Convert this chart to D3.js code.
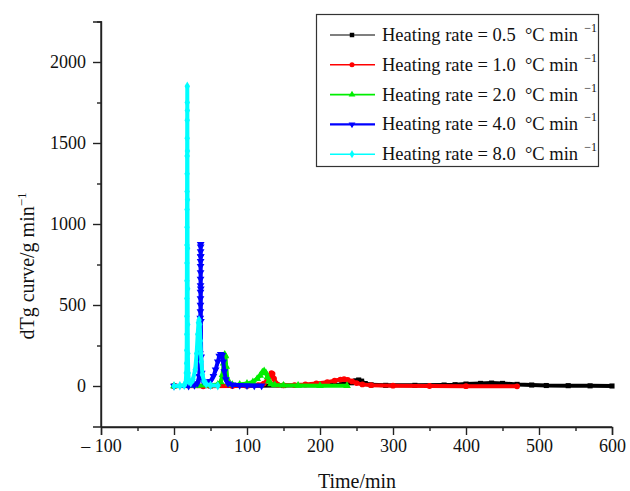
<!DOCTYPE html>
<html>
<head>
<meta charset="utf-8">
<script src="https://cdn.jsdelivr.net/npm/d3@7"></script>
<style>
  html, body { margin: 0; padding: 0; background: #fff; }
  svg { display: block; font-family: "Liberation Serif", "Times New Roman", serif; }
  svg text { font-family: "Liberation Serif", "Times New Roman", serif; }
</style>
</head>
<body>
<svg id="chart" width="630" height="491"></svg>
<script>
// DTG curves of the sample at five heating rates (time in min, dTg in g/min)
const rates = ["0.5", "1.0", "2.0", "4.0", "8.0"];
const colors = ["#000000", "#ff0000", "#00ee00", "#0000ff", "#00ffff"];
const symbols = [d3.symbolSquare, d3.symbolCircle, d3.symbolTriangle, "triangleDown", d3.symbolDiamond];

const time05 = [0, 50, 100, 150, 200, 230, 243, 249, 253, 257, 262, 270, 290, 330, 370, 385, 400, 420, 435, 450, 470, 490, 510, 540, 570, 600];
const dtg05  = [0, 1, 2, 3, 5, 10, 20, 32, 37, 30, 15, 7, 4, 4, 6, 8, 12, 16, 18, 16, 10, 6, 3, 2, 1, 0];

const time10 = [0, 40, 80, 100, 115, 123, 128, 131, 133.5, 135, 137, 139, 142, 150, 165, 180, 195, 210, 220, 228, 233, 238, 244, 250, 258, 270, 300, 350, 400, 470];
const dtg10  = [0, -2, 0, 2, 6, 15, 35, 60, 80, 75, 45, 20, 8, 4, 6, 10, 16, 24, 33, 40, 42, 38, 28, 18, 10, 5, 2, 0, -1, -2];

const time20 = [0, 30, 50, 60, 64, 66.5, 68, 69.5, 70.5, 71.5, 73, 75, 80, 90, 100, 108, 114, 118, 121, 123.5, 126, 128, 130, 133, 138, 150, 170, 200, 237];
const dtg20  = [0, 2, 5, 10, 25, 70, 140, 195, 185, 120, 45, 15, 8, 10, 15, 25, 45, 65, 85, 93, 80, 55, 30, 12, 6, 4, 3, 2, 1];

const time40 = [0, 20, 28, 32, 34.5, 35.5, 36.0, 36.2, 36.25, 36.3, 36.32, 36.35, 36.38, 36.4, 36.42, 36.45, 36.47, 36.5, 36.52, 36.55, 36.6, 36.7, 36.8, 37.2, 38, 40, 45, 50, 54, 57, 60, 62, 64, 66, 67.5, 69, 71, 74, 80, 90, 100, 110, 120];
const dtg40  = [0, 0, 5, 15, 60, 200, 420, 460, 500, 540, 580, 620, 660, 700, 740, 770, 800, 830, 860, 875, 800, 600, 400, 180, 80, 30, 20, 30, 60, 100, 150, 185, 196, 190, 150, 90, 40, 15, 8, 5, 3, 2, 1];

const time80 = [0, 8, 14, 16, 16.8, 17.2, 17.4, 17.5, 17.55, 17.6, 17.65, 17.7, 17.75, 17.8, 17.85, 17.9, 17.95, 18.0, 18.05, 18.1, 18.15, 18.2, 18.3, 18.4, 18.5, 18.6, 18.7, 18.8, 19.0, 19.5, 20.5, 23, 26, 29, 31, 32.5, 33.5, 34.3, 35.2, 36.2, 37.5, 39, 41, 44, 50, 60];
const dtg80  = [0, 2, 5, 20, 80, 140, 220, 320, 430, 540, 650, 760, 870, 980, 1090, 1200, 1310, 1420, 1530, 1640, 1750, 1850, 1700, 1450, 1150, 850, 600, 380, 200, 80, 30, 20, 40, 100, 200, 320, 390, 407, 380, 280, 150, 70, 30, 12, 4, 1];

const xTicks = [-100, 0, 100, 200, 300, 400, 500, 600];
const xTickLabels = ["\u2013 100", "0", "100", "200", "300", "400", "500", "600"];
const yTicks = [0, 500, 1000, 1500, 2000];
const yTickLabels = ["0", "500", "1000", "1500", "2000"];

const seriesTimes = [time05, time10, time20, time40, time80];
const seriesValues = [dtg05, dtg10, dtg20, dtg40, dtg80];

const svg = d3.select("#chart");
const x = d3.scaleLinear().domain([-100, 600]).range([101, 612]);
const y = d3.scaleLinear().domain([-250, 2250]).range([426.5, 21.5]);

// downward-pointing triangle symbol
const triangleDown = {
  draw(ctx, size) {
    const h = Math.sqrt(size / (Math.sqrt(3) / 4));
    const s = h / 2, t = h * Math.sqrt(3) / 2;
    ctx.moveTo(0, t * 2 / 3);
    ctx.lineTo(s, -t / 3);
    ctx.lineTo(-s, -t / 3);
    ctx.closePath();
  }
};
const symType = s => s === "triangleDown" ? triangleDown : s;

// curves with a marker at every data point
const line = d3.line().x(d => x(d[0])).y(d => y(d[1]));
const plot = svg.append("g");
seriesTimes.forEach((ts, i) => {
  const pts = ts.map((t, k) => [t, seriesValues[i][k]]);
  const g = plot.append("g");
  g.append("path")
    .attr("d", line(pts))
    .attr("fill", "none")
    .attr("stroke", colors[i])
    .attr("stroke-width", 4)
    .attr("stroke-linejoin", "round")
    .attr("stroke-linecap", "round");
  g.selectAll("path.m").data(pts).join("path")
    .attr("class", "m")
    .attr("transform", d => `translate(${x(d[0])},${y(d[1])})`)
    .attr("d", d3.symbol().type(symType(symbols[i])).size(26))
    .attr("fill", colors[i]);
});

// axes
const axisColor = "#222";
const xAxis = svg.append("g").attr("transform", "translate(0,427)")
  .call(d3.axisBottom(x).tickValues(xTicks).tickFormat((d, k) => xTickLabels[k]).tickSize(8).tickPadding(4));
const xMinor = svg.append("g").attr("transform", "translate(0,427)")
  .call(d3.axisBottom(x).tickValues(d3.range(-50, 600, 100)).tickFormat("").tickSize(4));
const yAxis = svg.append("g").attr("transform", "translate(101,0)")
  .call(d3.axisLeft(y).tickValues(yTicks).tickFormat((d, k) => yTickLabels[k]).tickSize(8).tickPadding(7));
const yMinor = svg.append("g").attr("transform", "translate(101,0)")
  .call(d3.axisLeft(y).tickValues([250, 750, 1250, 1750, 2250]).tickFormat("").tickSize(4));

[xAxis, xMinor, yAxis, yMinor].forEach(a => {
  a.attr("font-family", "Liberation Serif").attr("font-size", 18);
  a.select(".domain").attr("stroke", axisColor).attr("stroke-width", 1.4);
  a.selectAll(".tick line").attr("stroke", axisColor).attr("stroke-width", 1.4);
  a.selectAll(".tick text").attr("fill", "#111");
});
xMinor.select(".domain").remove();
yMinor.select(".domain").remove();
svg.append("line").attr("x1", 101).attr("x2", 101).attr("y1", 21).attr("y2", 427)
  .attr("stroke", axisColor).attr("stroke-width", 1.4);
svg.append("line").attr("x1", 101).attr("x2", 612).attr("y1", 427).attr("y2", 427)
  .attr("stroke", axisColor).attr("stroke-width", 1.4);

// axis titles
svg.append("text").attr("x", 357).attr("y", 488).attr("text-anchor", "middle")
  .style("font-size", "20px").attr("fill", "#111").text("Time/min");

const yt = svg.append("text").attr("transform", "translate(34,266) rotate(-90)")
  .attr("text-anchor", "middle").style("font-size", "20px").attr("fill", "#111");
yt.append("tspan").text("dTg curve/g min");
yt.append("tspan").attr("dy", -8).style("font-size", "13px").text("\u22121");

// legend
const lg = svg.append("g");
lg.append("rect").attr("x", 316.5).attr("y", 14.5).attr("width", 282).attr("height", 152)
  .attr("fill", "#fff").attr("stroke", "#333").attr("stroke-width", 1.2);
const legendWidths = [1.2, 1.6, 1.6, 2.4, 1.6];
rates.forEach((r, i) => {
  const cy = 35 + i * 29.8;
  lg.append("line").attr("x1", 330).attr("x2", 375).attr("y1", cy).attr("y2", cy)
    .attr("stroke", colors[i]).attr("stroke-width", legendWidths[i]);
  lg.append("path").attr("transform", `translate(352,${cy})`)
    .attr("d", d3.symbol().type(symType(symbols[i])).size(20)).attr("fill", colors[i]);
  const t = lg.append("text").attr("x", 382).attr("y", cy + 6)
    .style("font-size", "18.5px").attr("fill", "#111");
  t.append("tspan").text(`Heating rate = ${r}\u00a0 \u00b0C min`);
  t.append("tspan").attr("dx", 6).attr("dy", -9).style("font-size", "12px").text("\u22121");
});
</script>
</body>
</html>
